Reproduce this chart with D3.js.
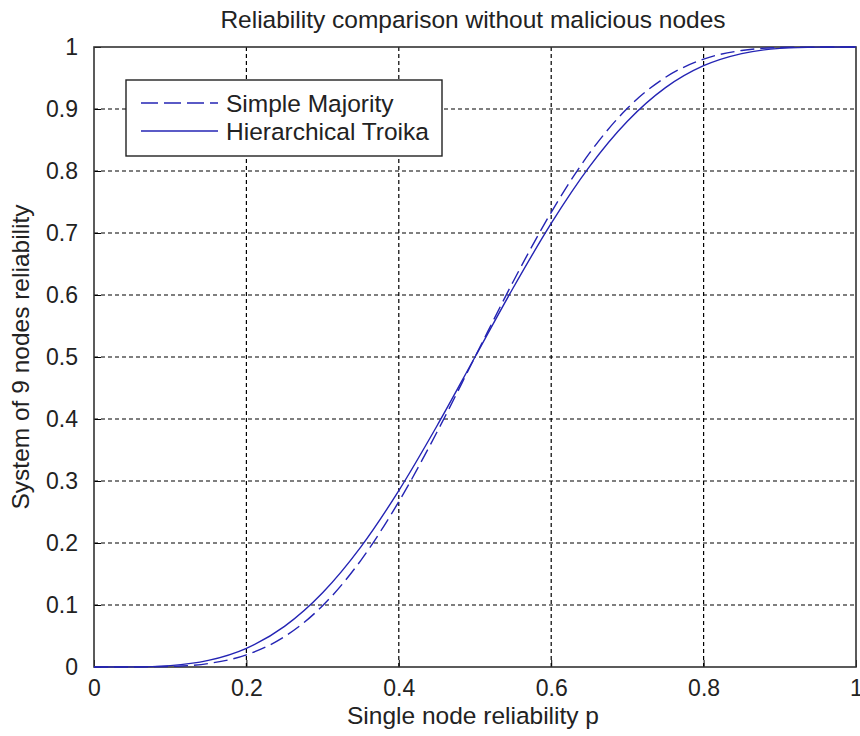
<!DOCTYPE html>
<html>
<head>
<meta charset="utf-8">
<script src="https://cdn.jsdelivr.net/npm/d3@7"></script>
<style>
  body { margin: 0; background: #fff; }
  text { font-family: "Liberation Sans", Arial, sans-serif; fill: #222; }
</style>
</head>
<body>
<div id="chart"></div>
<script>
const width = 860;
const height = 736;

// single node reliability p (x axis)
const pValues = [0, 0.05, 0.1, 0.15, 0.2, 0.25, 0.3, 0.35, 0.4, 0.45, 0.5,
  0.55, 0.6, 0.65, 0.7, 0.75, 0.8, 0.85, 0.9, 0.95, 1];
const simpleMajority = [0, 0.0001, 0.0009, 0.0056, 0.0196, 0.0489, 0.0988, 0.1717, 0.2666, 0.3786, 0.5,
  0.6214, 0.7334, 0.8283, 0.9012, 0.9511, 0.9804, 0.9944, 0.9991, 0.9999, 1];
const hierarchicalTroika = [0, 0.0002, 0.0023, 0.0106, 0.0302, 0.0656, 0.1198, 0.1934, 0.2845, 0.3887, 0.5,
  0.6113, 0.7155, 0.8066, 0.8802, 0.9344, 0.9698, 0.9894, 0.9977, 0.9998, 1];
const xTicks = [0, 0.2, 0.4, 0.6, 0.8, 1];
const yTicks = [0, 0.1, 0.2, 0.3, 0.4, 0.5, 0.6, 0.7, 0.8, 0.9, 1];

const margin = { top: 47, right: 4, bottom: 69, left: 94 };
const w = width - margin.left - margin.right;
const h = height - margin.top - margin.bottom;

const svg = d3.select("#chart")
  .append("svg")
  .attr("width", width)
  .attr("height", height);

const g = svg.append("g")
  .attr("transform", `translate(${margin.left},${margin.top})`);

const x = d3.scaleLinear().domain([0, 1]).range([0, w]);
const y = d3.scaleLinear().domain([0, 1]).range([h, 0]);

// grid
g.selectAll(".vgrid")
  .data(xTicks.slice(1, -1))
  .enter().append("line")
  .attr("x1", d => x(d)).attr("x2", d => x(d))
  .attr("y1", 0).attr("y2", h)
  .attr("stroke", "#000").attr("stroke-width", 1.2)
  .attr("stroke-dasharray", "4,3");

g.selectAll(".hgrid")
  .data(yTicks.slice(1, -1))
  .enter().append("line")
  .attr("x1", 0).attr("x2", w)
  .attr("y1", d => y(d)).attr("y2", d => y(d))
  .attr("stroke", "#000").attr("stroke-width", 1.2)
  .attr("stroke-dasharray", "4,3");

// axes (ticks inward, labels outside)
const xAxis = d3.axisBottom(x).tickValues(xTicks).tickFormat(d3.format("")).tickSizeInner(-7).tickSizeOuter(0).tickPadding(13);
const yAxis = d3.axisLeft(y).tickValues(yTicks).tickFormat(d3.format("")).tickSizeInner(-7).tickSizeOuter(0).tickPadding(16);

const gx = g.append("g").attr("transform", `translate(0,${h})`).call(xAxis);
const gy = g.append("g").call(yAxis);
[gx, gy].forEach(a => {
  a.select(".domain").remove();
  a.selectAll("line").attr("stroke", "#000");
  a.selectAll("text").style("font-size", "23px").attr("fill", "#222");
});
gx.selectAll("text").attr("dy", "0.71em");

// frame
g.append("rect")
  .attr("width", w).attr("height", h)
  .attr("fill", "none").attr("stroke", "#333").attr("stroke-width", 1.6);

// curves
const line = d3.line()
  .x((d, i) => x(pValues[i]))
  .y(d => y(d))
  .curve(d3.curveMonotoneX);

const blue = "#2424b4";

g.append("path")
  .datum(hierarchicalTroika)
  .attr("d", line)
  .attr("fill", "none")
  .attr("stroke", blue)
  .attr("stroke-width", 1.4);

g.append("path")
  .datum(simpleMajority)
  .attr("d", line)
  .attr("fill", "none")
  .attr("stroke", blue)
  .attr("stroke-width", 1.4)
  .attr("stroke-dasharray", "14,6");

// legend
const legend = svg.append("g").attr("transform", "translate(126,80)");
legend.append("rect")
  .attr("width", 316).attr("height", 76)
  .attr("fill", "#fff").attr("stroke", "#222").attr("stroke-width", 1.4);

const legendItems = [
  { name: "Simple Majority", dash: "17,6" },
  { name: "Hierarchical Troika", dash: null }
];
legendItems.forEach((d, i) => {
  const ly = 23 + i * 28;
  legend.append("line")
    .attr("x1", 15).attr("x2", 92)
    .attr("y1", ly).attr("y2", ly)
    .attr("stroke", blue).attr("stroke-width", 1.4)
    .attr("stroke-dasharray", d.dash);
  legend.append("text")
    .attr("x", 100).attr("y", ly)
    .attr("dy", "0.35em")
    .style("font-size", "24.5px")
    .text(d.name);
});

// title and axis labels
svg.append("text")
  .attr("x", margin.left + w / 2 - 2).attr("y", 28)
  .attr("text-anchor", "middle")
  .style("font-size", "24.5px")
  .text("Reliability comparison without malicious nodes");

svg.append("text")
  .attr("x", margin.left + w / 2 - 2).attr("y", 724)
  .attr("text-anchor", "middle")
  .style("font-size", "24.5px")
  .text("Single node reliability p");

svg.append("text")
  .attr("transform", `translate(29,${margin.top + h / 2}) rotate(-90)`)
  .attr("text-anchor", "middle")
  .style("font-size", "24.5px")
  .text("System of 9 nodes reliability");
</script>
</body>
</html>
